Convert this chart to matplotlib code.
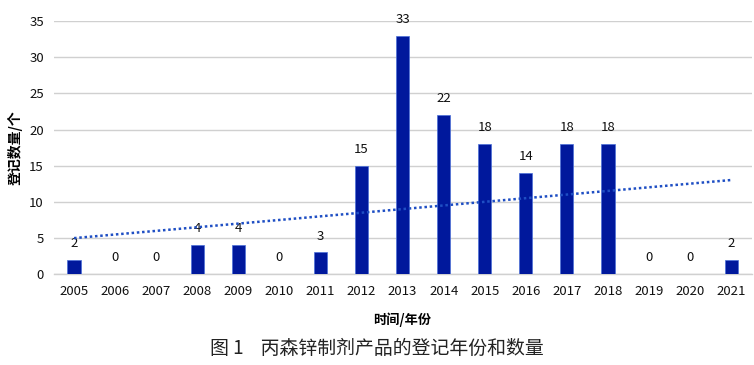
import matplotlib
matplotlib.use("Agg")
import matplotlib.pyplot as plt
import numpy as np

plt.rcParams["font.family"] = ["Noto Sans CJK SC", "DejaVu Sans"]

years = [str(y) for y in range(2005, 2022)]
counts = [2, 0, 0, 4, 4, 0, 3, 15, 33, 22, 18, 14, 18, 18, 0, 0, 2]
y_ticks = [0, 5, 10, 15, 20, 25, 30, 35]

BAR_COLOR = "#00189c"
TREND_COLOR = "#1f4fc4"
GRID_COLOR = "#d0d0d0"

fig = plt.figure(figsize=(7.54, 3.65), dpi=100)
ax = fig.add_axes([0.071, 0.249, 0.926, 0.693])

x = np.arange(len(years))
bars = ax.bar(x, counts, width=0.32, color=BAR_COLOR, edgecolor="#4a6fd8",
              linewidth=0.5, zorder=3)
ax.bar_label(bars, labels=[str(v) for v in counts], padding=7, fontsize=9.5,
             color="#111111")

# linear trendline, like the spreadsheet one
slope, intercept = np.polyfit(x, counts, 1)
ax.plot(x, slope * x + intercept, linestyle=(0, (1, 1.1)), color=TREND_COLOR,
        linewidth=1.8, zorder=4)

ax.set_xlim(-0.5, len(years) - 0.5)
ax.set_ylim(0, 35)
ax.set_yticks(y_ticks)
ax.set_xticks(x)
ax.set_xticklabels(years)
ax.tick_params(axis="both", length=0, labelsize=9.5, colors="#111111")
ax.tick_params(axis="x", pad=8)
ax.tick_params(axis="y", pad=7)
ax.grid(axis="y", color=GRID_COLOR, linewidth=1, zorder=0)
for side in ["top", "right", "left"]:
    ax.spines[side].set_visible(False)
ax.spines["bottom"].set_color(GRID_COLOR)
ax.spines["bottom"].set_linewidth(1)

ax.set_ylabel("登记数量/个", fontsize=10, fontweight="bold")
ax.yaxis.set_label_coords(-0.044, 0.5)
ax.set_xlabel("时间/年份", fontsize=9.5, fontweight="bold", labelpad=10)

fig.text(0.5, 0.045, "图 1    丙森锌制剂产品的登记年份和数量", ha="center",
         va="center", fontsize=13.6, color="#222222")

fig.savefig("out.png", dpi=100)
